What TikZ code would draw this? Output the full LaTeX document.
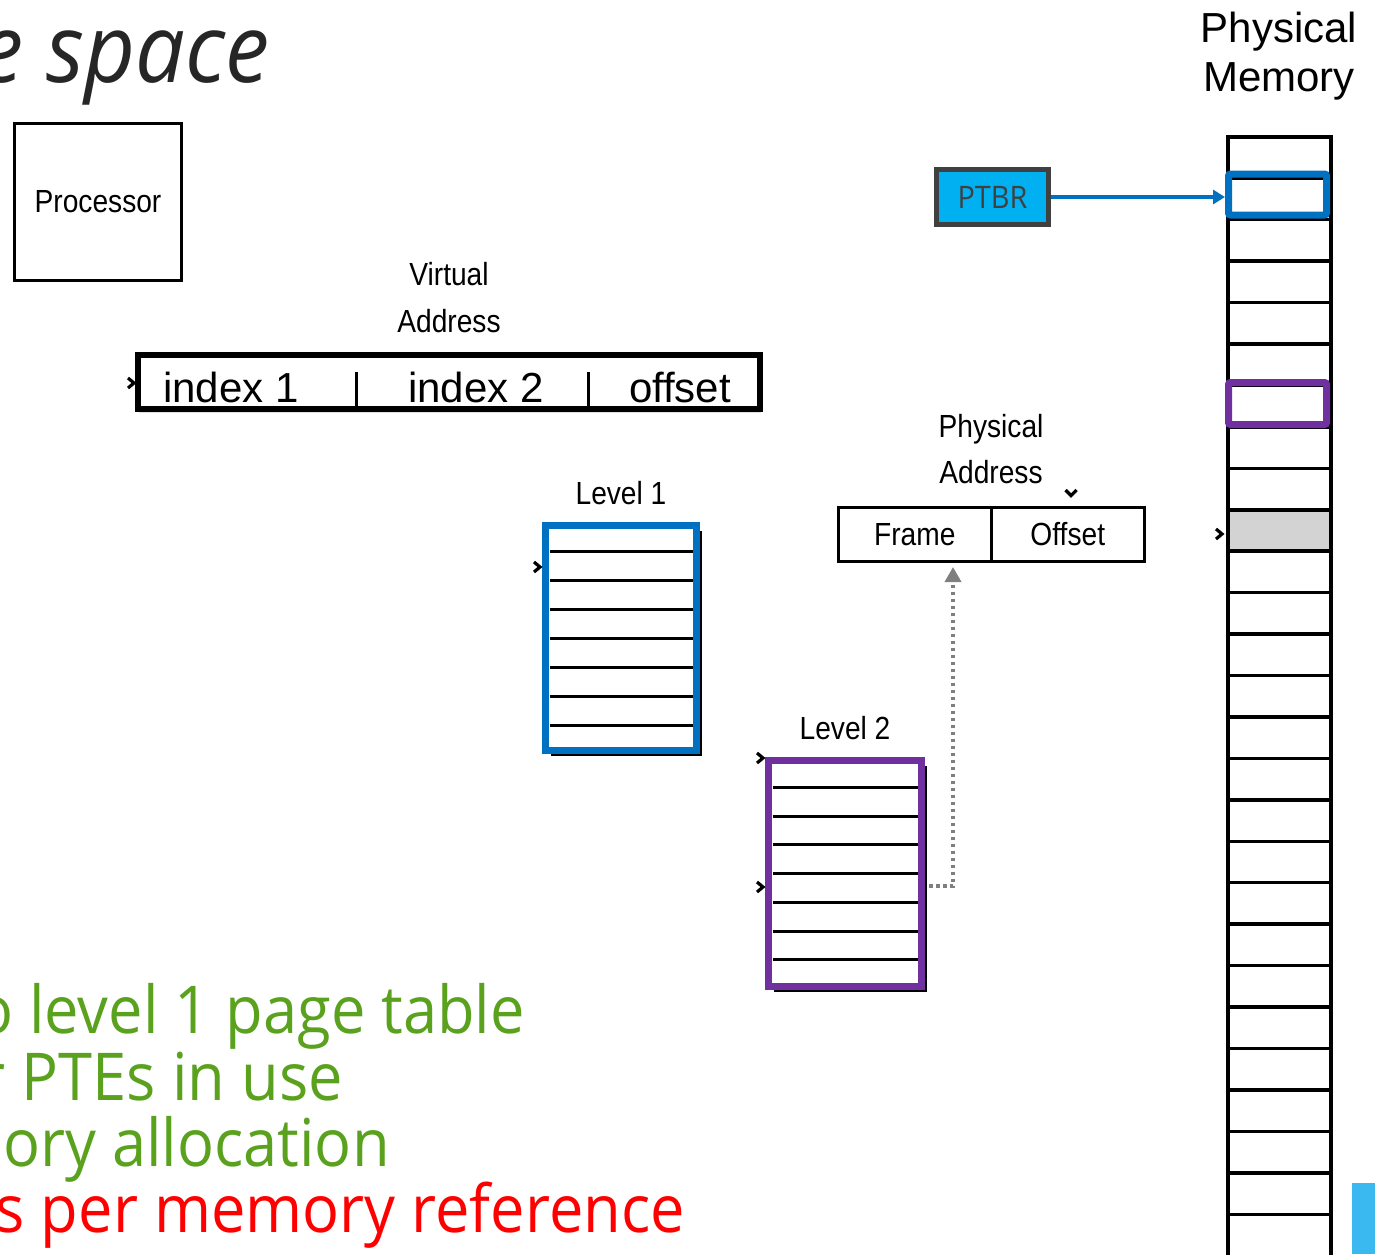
\documentclass[tikz,border=0pt]{standalone}
\usepackage{fontspec}
\setmainfont{Liberation Sans}
\newfontfamily\condf[FakeStretch=0.88]{Liberation Sans}
\newfontfamily\humf[FakeStretch=0.93]{Open Sans}
\usetikzlibrary{arrows.meta,shadows}
\definecolor{vblue}{HTML}{0070C0}
\definecolor{vpurple}{HTML}{7030A0}
\definecolor{ptbrfill}{HTML}{00B0F0}
\definecolor{ptbrline}{HTML}{404040}
\definecolor{vgreen}{HTML}{5AA21E}
\definecolor{vred}{HTML}{FF0000}
\definecolor{titlegray}{HTML}{262626}
\definecolor{cellgray}{HTML}{D3D3D3}
\definecolor{dotgray}{HTML}{7F7F7F}
\definecolor{sideblue}{HTML}{3AB9F0}
\begin{document}
\begin{tikzpicture}[x=1pt,y=-1pt,
  cond/.style={font=\condf\fontsize{32}{36}\selectfont, inner sep=0},
  arial/.style={font=\fontsize{42}{46}\selectfont, inner sep=0},
  bullet/.style={font=\humf\fontsize{66}{70}\selectfont, inner sep=0, anchor=base east},
  plainbox/.style={draw, line width=3, inner sep=0},
  tablebox/.style={fill=white, line width=7, inner sep=0, minimum width=151, minimum height=225,
    general shadow={fill=black, shadow xshift=5.5pt, shadow yshift=-5.5pt}},
  rowline/.style={line width=3},
  memline/.style={line width=3.5},
  hilite/.style={line width=7, rounded corners=2, inner sep=0, minimum width=98, minimum height=42},
  chev/.style={line width=3.2, line join=miter},
]
\useasboundingbox (0,0) rectangle (1375,1254);
\clip (0,0) rectangle (1375,1254);

% title
\node (title) [font=\humf\itshape\fontsize{95}{100}\selectfont, text=titlegray, anchor=base east, inner sep=0] at (270,82) {e space};

% processor
\node (proc) [plainbox, minimum width=167, minimum height=157, cond] at (98,202) {Processor};

% virtual address
\node (va1) [cond, anchor=base] at (449,285) {Virtual};
\node (va2) [cond, anchor=base] at (449,332) {Address};
\node (va) [draw, line width=6, minimum width=622, minimum height=54, inner sep=0, fill=white,
  drop shadow={opacity=0.25, shadow xshift=1pt, shadow yshift=-4pt}] at (449,382) {};
\node (i1) [arial, anchor=base] at (231,402) {index 1};
\node (i2) [arial, anchor=base] at (476,402) {index 2};
\node (off) [arial, anchor=base] at (680,402) {offset};
\draw[line width=3] (356,372) -- (356,409);
\draw[line width=3] (588,372) -- (588,409);

% physical memory
\node (pm1) [arial, anchor=base] at (1279,42) {Physical};
\node (pm2) [arial, anchor=base] at (1279,91) {Memory};
\fill[cellgray] (1228,509.8) rectangle (1331,551.2);
\foreach \k in {0,...,26} \draw[memline] (1228,{136.8+41.44*\k}) -- (1331,{136.8+41.44*\k});
\draw[memline] (1228,1260) -- (1228,136.8) -- (1331,136.8) -- (1331,1260);
\node (ptrow) [hilite, draw=vblue, minimum height=41] at (1277.5,194.5) {};
\node (l2row) [hilite, draw=vpurple] at (1277.5,403.5) {};

% PTBR
\node (ptbr) [draw=ptbrline, fill=ptbrfill, line width=5, minimum width=112, minimum height=55, inner sep=0,
  font=\humf\fontsize{31}{34}\selectfont, text=ptbrline] at (992.5,197) {PTBR};
\draw[vblue, line width=3.5, -{Triangle[length=12,width=14]}] (ptbr.east) -- (ptbr.east -| ptrow.west);

% level 1
\node (lv1) [cond, anchor=base] at (621,504) {Level 1};
\node (l1) [tablebox, draw=vblue] at (621,638) {};
\foreach \yy in {551,580,609,638,667,696,725} \draw[rowline] (549.5,\yy) -- (692.5,\yy);

% level 2
\node (lv2) [cond, anchor=base] at (845,739) {Level 2};
\node (l2) [tablebox, draw=vpurple, minimum width=153, minimum height=226] at (845,873.5) {};
\foreach \yy in {787,816,844,873,902,931,959} \draw[rowline] (772.5,\yy) -- (917.5,\yy);

% physical address
\node (pa1) [cond, anchor=base] at (991,437) {Physical};
\node (pa2) [cond, anchor=base] at (991,483) {Address};
\node (frame) [plainbox, minimum width=152.5, minimum height=54, cond] at (914.75,534.5) {Frame};
\node (offs) [plainbox, minimum width=153.5, minimum height=54, cond] at (1067.75,534.5) {Offset};

% dotted connector
\coordinate (d0) at (929,886);
\coordinate (dx) at (953,886);
\draw[dotgray, line width=3.5, dash pattern=on 3.5pt off 3.5pt, shorten >=4pt,
  -{Triangle[length=15,width=16]}] (d0) -- (dx) -- (dx |- frame.south);

% chevrons
\foreach \cx/\cy in {134/383, 540/567, 763/758, 763/887, 1222/534}
  \draw[chev] (\cx-6,\cy-5) -- (\cx,\cy) -- (\cx-6,\cy+5);
\draw[chev] (1065.5,490) -- (1071,495.5) -- (1076.5,490);

% bullet text
\node (b1) [bullet, text=vgreen] at (525,1033) {o level 1 page table};
\node (b2) [bullet, text=vgreen] at (343,1100) {r PTEs in use};
\node (b3) [bullet, text=vgreen] at (390,1166) {ory allocation};
\node (b4) [bullet, text=vred] at (685,1232) {s per memory reference};

% side bar
\fill[sideblue] (1352,1183) rectangle (1375,1254);
\end{tikzpicture}
\end{document}
